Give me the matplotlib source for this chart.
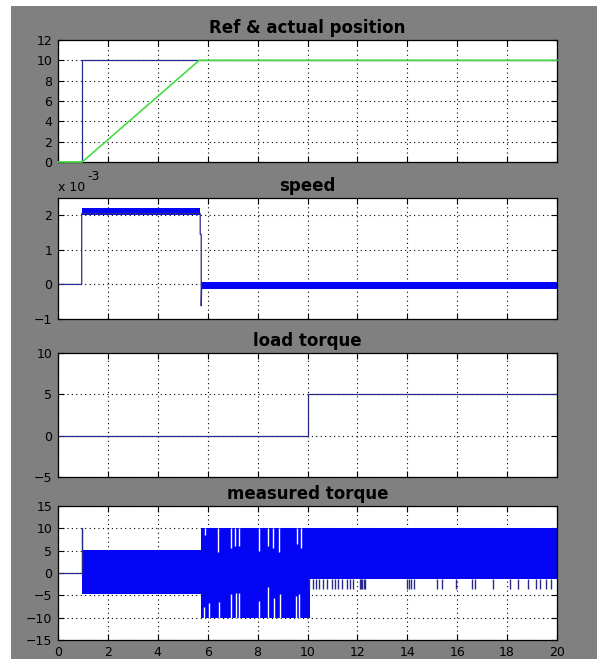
import matplotlib
matplotlib.use("Agg")
import matplotlib.pyplot as plt
from matplotlib.patches import Rectangle

# ---- data (time in s) ----
# reference & actual position
ref_t = [0, 0.95, 0.95, 0.98, 0.98, 20]
ref_pos = [0, 0, 5, 5, 10, 10]
act_t = [0, 0.97, 5.66, 20]
act_pos = [0, 0, 10, 10]

# speed, in units of 1e-3
speed_t = [0, 0.95, 0.95, 5.70, 5.70, 5.74, 5.74, 5.76]
speed_v = [0, 0, 2.05, 2.05, 1.45, 1.45, -0.62, 0]
speed_bands = [  # (t_start, t_end, low, high)
    (0.95, 5.70, 2.02, 2.21),
    (5.74, 20.0, -0.13, 0.08),
]

# load torque
load_t = [0, 10.03, 10.03, 20]
load_v = [0, 0, 5, 5]

# measured torque
meas_t = [0, 0.95, 0.95, 0.95]
meas_v = [0, 0, 10, 0]
meas_bands = [  # (t_start, t_end, low, high)
    (0.95, 5.72, -4.6, 5.1),
    (5.72, 10.10, -10, 10),
    (10.10, 20.0, -1.3, 10),
]
# white gaps cut into the band from the top: (t, lowest value reached)
top_gaps = [(5.90, 8.5), (6.41, 4.6), (6.95, 5.7), (7.10, 6.1), (7.25, 6.0),
            (8.05, 5.0), (8.43, 6.1), (8.61, 5.5), (8.85, 4.6), (9.56, 6.5),
            (9.72, 5.7)]
# white gaps cut into the band from the bottom: (t, highest value reached)
bottom_gaps = [(5.85, -7.5), (6.05, -6.8), (6.45, -6.6), (6.95, -4.7),
               (7.12, -4.5), (7.25, -4.5), (8.05, -6.2), (8.43, -3.2),
               (8.65, -5.5), (8.88, -4.7), (9.52, -5.2), (9.65, -4.7)]
# downward spikes after the load step
spike_t = [10.07, 10.21, 10.34, 10.47, 10.61, 10.77, 10.97, 11.10, 11.23,
           11.37, 11.57, 11.70, 11.84, 12.10, 12.15, 12.20, 12.25, 12.30,
           13.98, 14.08, 14.15, 14.25, 15.20, 15.40, 15.95, 16.60, 16.70,
           17.45, 18.10, 18.45, 18.85, 19.15, 19.30, 19.55, 19.75]
spike_low = -3.6

line_c = "#2a2a8c"
fill_c = "#0505f5"
green = "#44dd44"

fig = plt.figure(figsize=(5.97, 6.59), dpi=100, facecolor="white")
fig.patches.append(Rectangle((11 / 597, 0), 1, 1 - 6 / 659, transform=fig.transFigure,
                             facecolor="#808080", edgecolor="none", zorder=-1))

left, width = 58 / 597, 499 / 597
boxes = [(40, 162), (198, 319), (353, 477), (506, 640)]
axes = []
for top, bot in boxes:
    ax = fig.add_axes([left, 1 - bot / 659, width, (bot - top) / 659])
    ax.set_facecolor("white")
    ax.set_xlim(0, 20)
    ax.set_xticks(range(0, 21, 2))
    ax.set_axisbelow(True)
    ax.grid(True, color="black", linestyle=(0, (1, 3)), linewidth=0.8)
    ax.tick_params(direction="in", top=True, right=True, length=4, width=0.8,
                   labelsize=9, pad=4)
    for s in ax.spines.values():
        s.set_linewidth(0.9)
    axes.append(ax)
ax1, ax2, ax3, ax4 = axes
for ax in axes[:3]:
    ax.tick_params(labelbottom=False)

tkw = dict(fontsize=12, fontweight="bold", pad=5)

# position
ax1.plot(ref_t, ref_pos, color=line_c, lw=0.9)
ax1.plot(act_t, act_pos, color=green, lw=1.2, clip_on=False, zorder=4)
ax1.set_ylim(0, 12)
ax1.set_yticks(range(0, 13, 2))
ax1.set_title("Ref & actual position", **tkw)

# speed
for t0, t1, lo, hi in speed_bands:
    ax2.fill_between([t0, t1], lo, hi, color=fill_c, lw=0)
ax2.plot(speed_t, speed_v, color=line_c, lw=0.9)
ax2.set_ylim(-1, 2.5)
ax2.set_yticks([-1, 0, 1, 2])
ax2.set_title("speed", **tkw)
ax2.text(0, 1.083, "x 10", transform=ax2.transAxes, fontsize=9, va="center", ha="left")
ax2.text(0.058, 1.18, "-3", transform=ax2.transAxes, fontsize=9, va="center", ha="left")

# load torque
ax3.plot(load_t, load_v, color=line_c, lw=0.9)
ax3.set_ylim(-5, 10)
ax3.set_yticks([-5, 0, 5, 10])
ax3.set_title("load torque", **tkw)

# measured torque
ax4.plot(meas_t, meas_v, color=line_c, lw=0.9)
for t0, t1, lo, hi in meas_bands:
    ax4.fill_between([t0, t1], lo, hi, color=fill_c, lw=0)
ax4.vlines([g[0] for g in top_gaps], [g[1] for g in top_gaps], 10,
           color="white", lw=1.0, zorder=3)
ax4.vlines([g[0] for g in bottom_gaps], -10, [g[1] for g in bottom_gaps],
           color="white", lw=1.0, zorder=3)
ax4.vlines(spike_t, spike_low, -1.3, color=line_c, lw=1.0, zorder=3)
ax4.set_ylim(-15, 15)
ax4.set_yticks(range(-15, 16, 5))
ax4.set_title("measured torque", **tkw)

fig.savefig("out.png", dpi=100, facecolor=fig.get_facecolor())
